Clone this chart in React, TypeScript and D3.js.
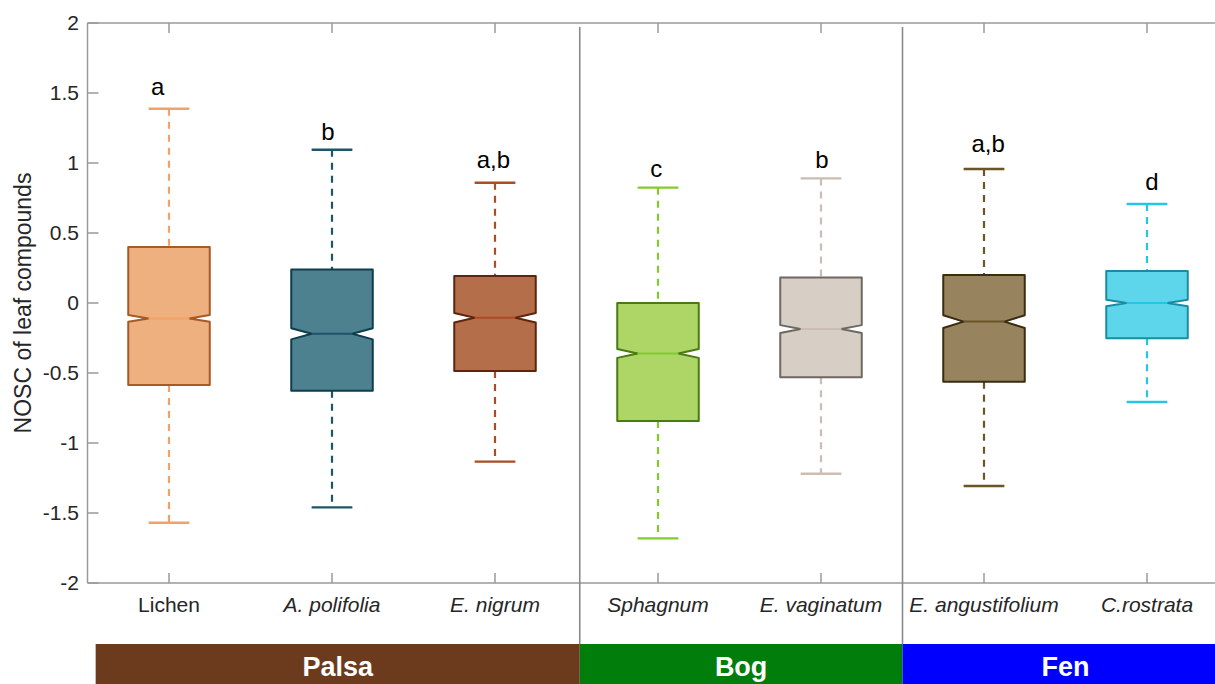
import React from "react";
import * as d3 from "d3";

// Species shown on the x axis, left to right
const species = ["Lichen", "A. polifolia", "E. nigrum", "Sphagnum", "E. vaginatum", "E. angustifolium", "C.rostrata"];
const italicLabel = [false, true, true, true, true, true, true];

// Box statistics (NOSC)
const whiskerHigh = [1.388, 1.095, 0.859, 0.824, 0.890, 0.957, 0.707];
const q3 = [0.40, 0.24, 0.193, 0.0, 0.183, 0.20, 0.229];
const median = [-0.11, -0.22, -0.105, -0.36, -0.186, -0.133, 0.0];
const q1 = [-0.586, -0.626, -0.486, -0.843, -0.531, -0.562, -0.252];
const whiskerLow = [-1.57, -1.46, -1.133, -1.681, -1.22, -1.307, -0.707];
// half height of the notch around the median
const notchHalf = [0.024, 0.04, 0.034, 0.032, 0.028, 0.045, 0.024];

// Significance letters: baseline height and horizontal nudge (x units)
const groupLetters = ["a", "b", "a,b", "c", "b", "a,b", "d"];
const letterY = [1.486, 1.164, 0.964, 0.9, 0.964, 1.079, 0.807];
const letterShift = [-0.07, -0.025, -0.01, -0.01, 0.005, 0.025, 0.03];

// Colours per species
const fillColors = ["#EFB07F", "#4E8190", "#B56E4A", "#ADD667", "#D7CEC5", "#97845E", "#5DD6EB"];
const edgeColors = ["#A65A26", "#0E3D4C", "#5E250C", "#4A7A12", "#6E6862", "#3A2C0E", "#1A8CA2"];
const whiskerColors = ["#F4A165", "#1D5668", "#A84D24", "#82CB2E", "#CCBDB2", "#6B5527", "#25C5E6"];

// Habitat bands
const habitats = ["Palsa", "Bog", "Fen"];
const habitatStart = [0.55, 3.52, 5.5];
const habitatEnd = [3.52, 5.5, 7.5];
const habitatColors = ["#6C3B1D", "#007D0B", "#0000FF"];
const dividerAt = [3.52, 5.5];

const yTicks = [-2, -1.5, -1, -0.5, 0, 0.5, 1, 1.5, 2];

const W = 1215;
const H = 684;

export default function App() {
  const x = d3.scaleLinear().domain([0.5, 7.5]).range([87.5, 1228.5]);
  const y = d3.scaleLinear().domain([-2, 2]).range([583, 23]);
  const bw = x(1.25) - x(1); // half box width
  const capW = bw / 2;
  const font = "Arial, 'Liberation Sans', Helvetica, sans-serif";
  const axisColor = "#9A9A9A";
  const tickText = "#262626";

  return (
    <svg
      width={W}
      height={H}
      style={{ position: "absolute", left: 0, top: 0, background: "#fff" }}
      fontFamily={font}
    >
      {/* plot frame */}
      <line x1={x(0.5)} x2={x(7.5)} y1={y(2)} y2={y(2)} stroke={axisColor} strokeWidth={1.5} />
      <line x1={x(0.5)} x2={x(7.5)} y1={y(-2)} y2={y(-2)} stroke={axisColor} strokeWidth={1.5} />
      <line x1={x(0.5)} x2={x(0.5)} y1={y(2)} y2={y(-2)} stroke={axisColor} strokeWidth={1.5} />

      {/* y ticks and labels */}
      {yTicks.map((t) => (
        <g key={t}>
          <line x1={x(0.5)} x2={x(0.5) + 11} y1={y(t)} y2={y(t)} stroke={axisColor} strokeWidth={1.5} />
          <text x={79} y={y(t)} dy="0.35em" textAnchor="end" fontSize={21} fill={tickText}>
            {t}
          </text>
        </g>
      ))}

      {/* x ticks (top and bottom) and labels */}
      {species.map((s, i) => (
        <g key={s}>
          <line x1={x(i + 1)} x2={x(i + 1)} y1={y(2)} y2={y(2) + 10} stroke={axisColor} strokeWidth={1.5} />
          <line x1={x(i + 1)} x2={x(i + 1)} y1={y(-2)} y2={y(-2) - 10} stroke={axisColor} strokeWidth={1.5} />
          <text
            x={x(i + 1)}
            y={612}
            textAnchor="middle"
            fontSize={21}
            fontStyle={italicLabel[i] ? "italic" : "normal"}
            fill={tickText}
          >
            {s}
          </text>
        </g>
      ))}

      {/* y axis title */}
      <text
        transform={`translate(31, ${y(0)}) rotate(-90)`}
        textAnchor="middle"
        fontSize={23}
        fill={tickText}
      >
        NOSC of leaf compounds
      </text>

      {/* habitat dividers */}
      {dividerAt.map((d) => (
        <line key={d} x1={x(d)} x2={x(d)} y1={27} y2={644} stroke="#8A8A8A" strokeWidth={1.6} />
      ))}

      {/* habitat bands */}
      {habitats.map((h, i) => (
        <g key={h}>
          <rect
            x={x(habitatStart[i])}
            y={644}
            width={x(habitatEnd[i]) - x(habitatStart[i])}
            height={H - 644}
            fill={habitatColors[i]}
          />
          <text
            x={(x(habitatStart[i]) + x(habitatEnd[i])) / 2}
            y={676}
            textAnchor="middle"
            fontSize={27}
            fontWeight="bold"
            fill="#fff"
          >
            {h}
          </text>
        </g>
      ))}

      {/* notched boxes */}
      {species.map((s, i) => {
        const cx = x(i + 1);
        const l = cx - bw;
        const r = cx + bw;
        const inset = bw * 0.5;
        const nt = y(median[i] + notchHalf[i]);
        const nb = y(median[i] - notchHalf[i]);
        const m = y(median[i]);
        const path = d3.path();
        path.moveTo(l, y(q3[i]));
        path.lineTo(r, y(q3[i]));
        path.lineTo(r, nt);
        path.lineTo(r - inset, m);
        path.lineTo(r, nb);
        path.lineTo(r, y(q1[i]));
        path.lineTo(l, y(q1[i]));
        path.lineTo(l, nb);
        path.lineTo(l + inset, m);
        path.lineTo(l, nt);
        path.closePath();
        return (
          <g key={s}>
            {/* whiskers */}
            <line x1={cx} x2={cx} y1={y(whiskerHigh[i])} y2={y(q3[i])} stroke={whiskerColors[i]} strokeWidth={2.2} strokeDasharray="7 6" />
            <line x1={cx} x2={cx} y1={y(q1[i])} y2={y(whiskerLow[i])} stroke={whiskerColors[i]} strokeWidth={2.2} strokeDasharray="7 6" />
            <line x1={cx - capW} x2={cx + capW} y1={y(whiskerHigh[i])} y2={y(whiskerHigh[i])} stroke={whiskerColors[i]} strokeWidth={2.4} />
            <line x1={cx - capW} x2={cx + capW} y1={y(whiskerLow[i])} y2={y(whiskerLow[i])} stroke={whiskerColors[i]} strokeWidth={2.4} />
            {/* box */}
            <path d={path.toString()} fill={fillColors[i]} stroke={edgeColors[i]} strokeWidth={2} strokeLinejoin="round" />
            {/* median */}
            <line x1={l + inset} x2={r - inset} y1={m} y2={m} stroke={whiskerColors[i]} strokeWidth={2} />
            {/* letters */}
            <text x={x(i + 1 + letterShift[i])} y={y(letterY[i])} textAnchor="middle" fontSize={24} fill="#000">
              {groupLetters[i]}
            </text>
          </g>
        );
      })}
    </svg>
  );
}
